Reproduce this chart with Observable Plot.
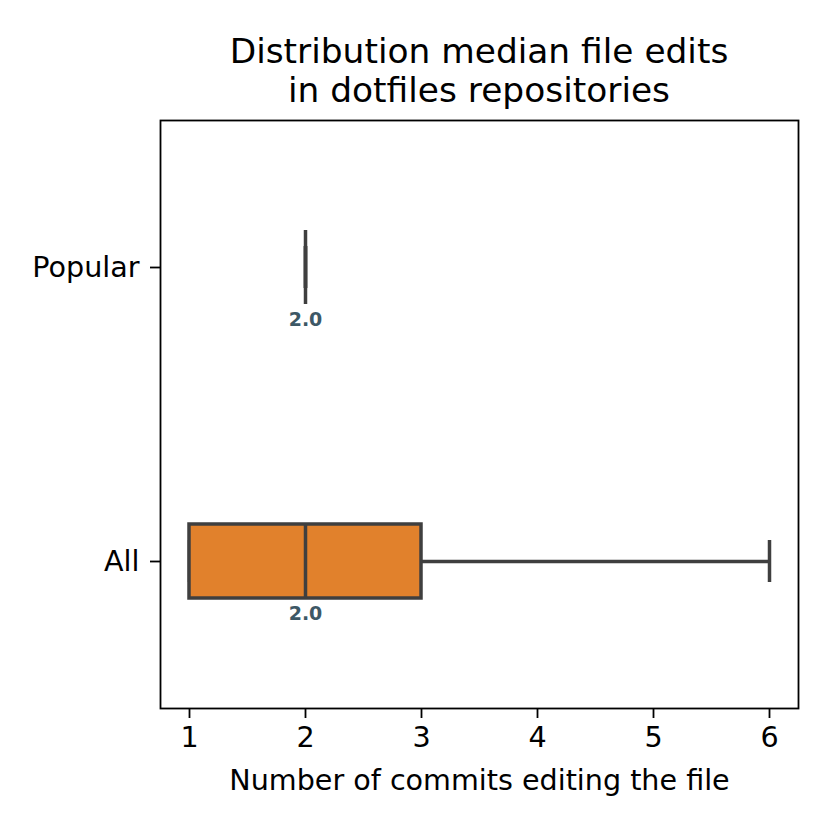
<!DOCTYPE html>
<html>
<head>
<meta charset="utf-8">
<script src="https://cdn.jsdelivr.net/npm/d3@7"></script>
<script src="https://cdn.jsdelivr.net/npm/@observablehq/plot@0.6"></script>
<style>
  html, body { margin: 0; padding: 0; background: #fff; }
  #wrap { position: relative; width: 830px; height: 830px; }
  #title { position: absolute; left: 160px; width: 638px; top: 32px; text-align: center;
           font-family: "DejaVu Sans", sans-serif; font-size: 34.4px; line-height: 38.5px; color: #000; }
</style>
</head>
<body>
<div id="wrap">
  <div id="chart"></div>
  <div id="title">Distribution median file edits<br>in dotfiles repositories</div>
</div>
<script>
const categories = ["Popular", "All"];
const whiskerLow = [2, 1];
const q1 = [2, 1];
const median = [2, 2];
const q3 = [2, 3];
const whiskerHigh = [2, 6];
const xTicks = [1, 2, 3, 4, 5, 6];
const xLabel = "Number of commits editing the file";

const stats = categories.map((c, i) => ({
  cat: c, lo: whiskerLow[i], q1: q1[i], med: median[i], q3: q3[i], hi: whiskerHigh[i],
  label: median[i].toFixed(1)
}));

const stroke = "#3f3f3f";
const fill = "#e1812c";
const boxInset = 110;
const capInset = 126;
const sw = 3.5;

const chart = Plot.plot({
  width: 830,
  height: 830,
  marginLeft: 160,
  marginRight: 32,
  marginTop: 120,
  marginBottom: 122,
  style: { fontFamily: "DejaVu Sans, sans-serif", fontSize: "28.6px", color: "#000", background: "#fff" },
  x: { domain: [0.75, 6.25] },
  y: { domain: categories, padding: 0 },
  marks: [
    Plot.frame({ stroke: "#000", strokeWidth: 1.8 }),
    Plot.axisX({ ticks: xTicks, tickFormat: "d", tickSize: 10, tickPadding: 8, strokeWidth: 1.8, label: xLabel, labelAnchor: "center", labelArrow: "none", labelOffset: 81 }),
    Plot.axisY({ tickSize: 10, tickPadding: 11, strokeWidth: 1.8, label: null }),
    Plot.ruleY(stats, { y: "cat", x1: "q3", x2: "hi", stroke, strokeWidth: sw }),
    Plot.ruleY(stats, { y: "cat", x1: "lo", x2: "q1", stroke, strokeWidth: sw }),
    Plot.tickX(stats, { y: "cat", x: "hi", stroke, strokeWidth: sw, insetTop: capInset, insetBottom: capInset }),
    Plot.tickX(stats, { y: "cat", x: "lo", stroke, strokeWidth: sw, insetTop: capInset, insetBottom: capInset }),
    Plot.barX(stats, { y: "cat", x1: "q1", x2: "q3", fill, stroke, strokeWidth: sw, insetTop: boxInset, insetBottom: boxInset }),
    Plot.tickX(stats, { y: "cat", x: "med", stroke, strokeWidth: sw, insetTop: boxInset, insetBottom: boxInset }),
    Plot.text(stats, { y: "cat", x: "med", text: "label", dy: 52, fill: "#3d5866", fontWeight: "bold", fontSize: 19 })
  ]
});
document.getElementById("chart").appendChild(chart);
</script>
</body>
</html>
